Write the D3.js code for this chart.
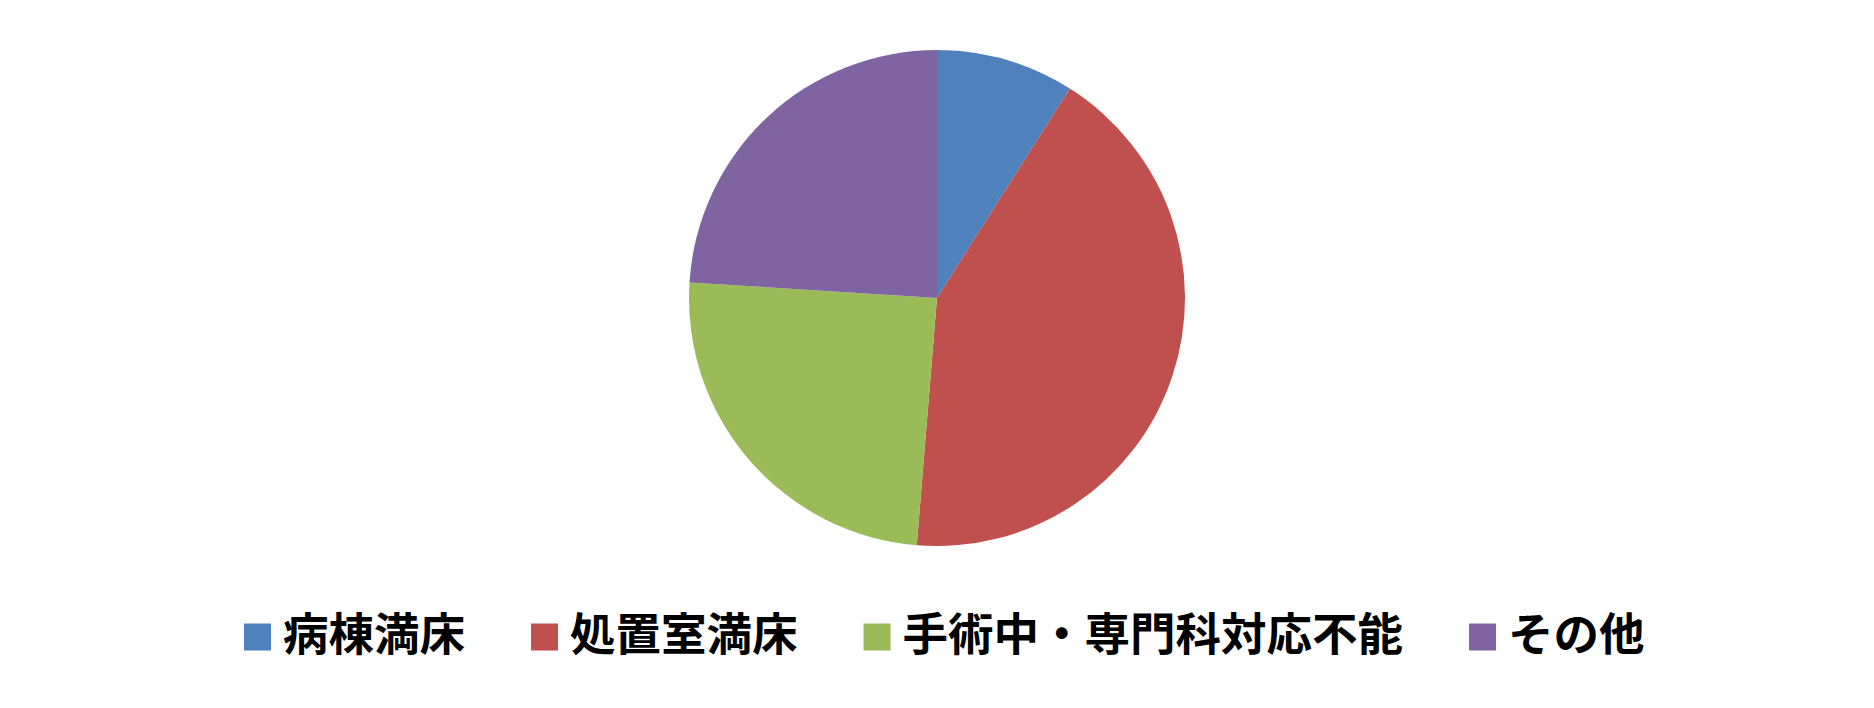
<!DOCTYPE html>
<html>
<head>
<meta charset="utf-8">
<script src="https://cdn.jsdelivr.net/npm/d3@7"></script>
<style>
  html, body { margin: 0; padding: 0; background: #fff; }
  svg { display: block; }
  .legend-label { font-family: "Noto Sans CJK JP", sans-serif; font-weight: bold; font-size: 45.5px; fill: #000; }
</style>
</head>
<body>
<div id="chart"></div>
<script>
const WIDTH = 1874, HEIGHT = 708;
const CENTER_X = 937, CENTER_Y = 298;
const RADIUS = 248;

const LEGEND_X = 244, LEGEND_Y = 637;
const SWATCH = 27;
const SWATCH_GAP = 12;
const ITEM_GAP = 66;

// categories and shares (percent)
const categories = ['病棟満床', '処置室満床', '手術中・専門科対応不能', 'その他'];
const shares = [9.0, 42.3, 24.7, 24.0];
const colors = ['#4F81BD', '#C0504D', '#9BBB59', '#8064A2'];

const data = categories.map((c, i) => ({ name: c, value: shares[i], color: colors[i] }));

const svg = d3.select('#chart')
  .append('svg')
    .attr('width', WIDTH)
    .attr('height', HEIGHT);

const pie = d3.pie()
  .value(d => d.value)
  .sort(null);

const arc = d3.arc()
  .innerRadius(0)
  .outerRadius(RADIUS);

svg.append('g')
    .attr('transform', `translate(${CENTER_X}, ${CENTER_Y})`)
  .selectAll('path')
  .data(pie(data))
  .enter().append('path')
    .attr('d', arc)
    .attr('fill', d => d.data.color);

// legend, laid out left to right from measured text widths
const legend = svg.append('g')
    .attr('transform', `translate(${LEGEND_X}, ${LEGEND_Y})`);

const items = legend.selectAll('.legend-item')
  .data(data)
  .enter().append('g')
    .attr('class', 'legend-item');

items.append('rect')
  .attr('x', 0)
  .attr('y', -SWATCH / 2)
  .attr('width', SWATCH)
  .attr('height', SWATCH)
  .attr('fill', d => d.color);

items.append('text')
  .attr('class', 'legend-label')
  .attr('x', SWATCH + SWATCH_GAP)
  .attr('y', 0)
  .attr('dy', '0.3em')
  .text(d => d.name);

let x = 0;
items.each(function() {
  const g = d3.select(this);
  const w = SWATCH + SWATCH_GAP + g.select('text').node().getComputedTextLength();
  g.attr('transform', `translate(${x}, 0)`);
  x += w + ITEM_GAP;
});
</script>
</body>
</html>
